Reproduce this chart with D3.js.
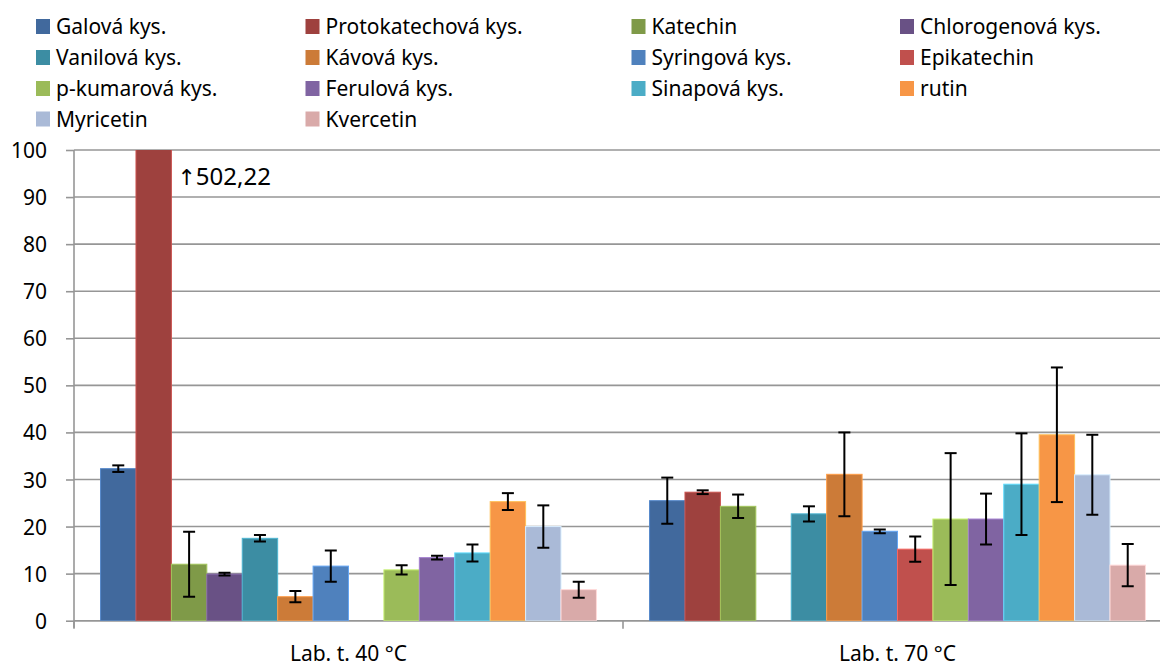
<!DOCTYPE html>
<html>
<head>
<meta charset="utf-8">
<script src="https://cdn.jsdelivr.net/npm/d3@7/dist/d3.min.js"></script>
<style>
  html, body { margin: 0; padding: 0; background: #fff; }
  svg { display: block; font-family: "Noto Sans", "DejaVu Sans", sans-serif; }
</style>
</head>
<body>
<svg id="chart" width="1160" height="666"></svg>
<script>
// Extraction temperatures (categories on the x axis)
const categories = ["Lab. t. 40 °C", "Lab. t. 70 °C"];

// Phenolic compounds (one bar series each)
const compounds = [
  "Galová kys.", "Protokatechová kys.", "Katechin", "Chlorogenová kys.",
  "Vanilová kys.", "Kávová kys.", "Syringová kys.", "Epikatechin",
  "p-kumarová kys.", "Ferulová kys.", "Sinapová kys.", "rutin",
  "Myricetin", "Kvercetin"
];

// Mean values at 40 °C and 70 °C (null = not detected)
const values40 = [32.3, 502.22, 12.0, 9.9, 17.5, 5.1, 11.6, null, 10.8, 13.4, 14.4, 25.3, 20.0, 6.6];
const values70 = [25.5, 27.3, 24.3, null, 22.7, 31.1, 19.0, 15.2, 21.6, 21.6, 29.0, 39.5, 31.0, 11.8];

// Standard deviations drawn as error bars
const errors40 = [0.7, null, 6.9, 0.3, 0.7, 1.2, 3.3, null, 1.0, 0.4, 1.8, 1.8, 4.5, 1.7];
const errors70 = [4.9, 0.4, 2.5, null, 1.6, 8.9, 0.4, 2.7, 14.0, 5.4, 10.8, 14.3, 8.5, 4.5];

// Y axis ticks
const yTicks = [0, 10, 20, 30, 40, 50, 60, 70, 80, 90, 100];

// Series colours
const palette = [
  "#41699d", "#9e413e", "#7f9a48", "#695185",
  "#3c8da3", "#cc7b38", "#4f81bd", "#c0504d",
  "#9bbb59", "#8064a2", "#4bacc6", "#f79646",
  "#aabad7", "#d9aaa9"
];

const valuesByCategory = [values40, values70];
const errorsByCategory = [errors40, errors70];

const svg = d3.select("#chart");

const plot = { left: 74, right: 1172, top: 150, bottom: 620.7 };

const x0 = d3.scaleBand().domain(categories).range([plot.left, plot.right]).padding(0);
const x1 = d3.scaleBand().domain(compounds).range([0, x0.bandwidth()])
  .paddingInner(0).paddingOuter(0.75);
const y = d3.scaleLinear().domain([0, 100]).range([plot.bottom, plot.top]);
const color = d3.scaleOrdinal().domain(compounds).range(palette);

// Clip region for the plot area (bars taller than the axis are cut off)
svg.append("defs").append("clipPath").attr("id", "plot-clip")
  .append("rect")
  .attr("x", plot.left).attr("y", plot.top)
  .attr("width", plot.right - plot.left).attr("height", plot.bottom - plot.top);

// Horizontal gridlines
svg.append("g").attr("class", "grid")
  .selectAll("line").data(yTicks).join("line")
  .attr("x1", plot.left).attr("x2", plot.right)
  .attr("y1", d => y(d)).attr("y2", d => y(d))
  .attr("stroke", "#969696").attr("stroke-width", 1.6);

// Y axis
const yAxis = svg.append("g")
  .attr("transform", `translate(${plot.left},0)`)
  .call(d3.axisLeft(y).tickValues(yTicks).tickSize(8).tickPadding(19).tickFormat(d3.format("d")));
yAxis.select(".domain").attr("stroke", "#969696").attr("stroke-width", 1.6)
  .attr("d", `M0,${plot.top}V${plot.bottom + 7}`);
yAxis.selectAll(".tick line").attr("stroke", "#969696").attr("stroke-width", 1.6);
yAxis.selectAll(".tick text")
  .attr("font-family", "Noto Sans").attr("font-size", 21).attr("fill", "#000")
  .attr("dy", "0.36em");

// X axis: baseline, category boundary ticks and labels
const xAxis = svg.append("g");
xAxis.append("line")
  .attr("x1", plot.left).attr("x2", plot.right)
  .attr("y1", plot.bottom).attr("y2", plot.bottom)
  .attr("stroke", "#969696").attr("stroke-width", 1.6);
const boundaries = categories.map(c => x0(c)).concat([x0(categories[categories.length - 1]) + x0.bandwidth()]);
xAxis.selectAll("line.boundary").data(boundaries).join("line")
  .attr("class", "boundary")
  .attr("x1", d => d).attr("x2", d => d)
  .attr("y1", plot.bottom).attr("y2", plot.bottom + 8)
  .attr("stroke", "#969696").attr("stroke-width", 1.6);
xAxis.selectAll("text").data(categories).join("text")
  .attr("x", d => x0(d) + x0.bandwidth() / 2)
  .attr("y", 661)
  .attr("text-anchor", "middle")
  .attr("font-family", "Noto Sans").attr("font-size", 21).attr("fill", "#000")
  .text(d => d);

// Bars
const groups = svg.append("g").attr("clip-path", "url(#plot-clip)")
  .selectAll("g").data(categories).join("g")
  .attr("transform", d => `translate(${x0(d)},0)`);

groups.selectAll("rect")
  .data((cat, i) => compounds.map((name, j) => ({ name, value: valuesByCategory[i][j] })))
  .join("rect")
  .filter(d => d.value !== null)
  .attr("x", d => x1(d.name))
  .attr("width", x1.bandwidth())
  .attr("y", d => y(d.value))
  .attr("height", d => y(0) - y(d.value))
  .attr("fill", d => color(d.name))
  .attr("stroke", d => d3.color(color(d.name)).brighter(0.7))
  .attr("stroke-width", 1);

// Error bars
const capHalf = 6;
const errGroups = svg.append("g").attr("clip-path", "url(#plot-clip)")
  .selectAll("g").data(categories).join("g")
  .attr("transform", d => `translate(${x0(d)},0)`);

const errData = (cat, i) => compounds
  .map((name, j) => ({ name, value: valuesByCategory[i][j], err: errorsByCategory[i][j] }))
  .filter(d => d.value !== null && d.err !== null);

errGroups.each(function (cat, i) {
  const g = d3.select(this);
  const data = errData(cat, i);
  const cx = d => x1(d.name) + x1.bandwidth() / 2;
  g.selectAll("line.stem").data(data).join("line").attr("class", "stem")
    .attr("x1", cx).attr("x2", cx)
    .attr("y1", d => y(d.value + d.err)).attr("y2", d => y(d.value - d.err))
    .attr("stroke", "#000").attr("stroke-width", 2);
  g.selectAll("line.capTop").data(data).join("line").attr("class", "capTop")
    .attr("x1", d => cx(d) - capHalf).attr("x2", d => cx(d) + capHalf)
    .attr("y1", d => y(d.value + d.err)).attr("y2", d => y(d.value + d.err))
    .attr("stroke", "#000").attr("stroke-width", 2);
  g.selectAll("line.capBot").data(data).join("line").attr("class", "capBot")
    .attr("x1", d => cx(d) - capHalf).attr("x2", d => cx(d) + capHalf)
    .attr("y1", d => y(d.value - d.err)).attr("y2", d => y(d.value - d.err))
    .attr("stroke", "#000").attr("stroke-width", 2);
});

// Value note for the bar that exceeds the axis range
const offScale = [];
categories.forEach((cat, i) => compounds.forEach((name, j) => {
  const v = valuesByCategory[i][j];
  if (v !== null && v > y.domain()[1]) offScale.push({ cat, name, value: v });
}));
const note = svg.append("g").selectAll("text").data(offScale).join("text")
  .attr("x", d => x0(d.cat) + x1(d.name) + x1.bandwidth() + 6)
  .attr("y", y(100) + 35)
  .attr("font-family", "Noto Sans").attr("font-size", 24).attr("fill", "#000");
note.append("tspan")
  .attr("font-family", "DejaVu Sans").attr("font-size", 22).attr("fill", "#000")
  .text("\u2191");
note.append("tspan")
  .text(d => d3.format(".2f")(d.value).replace(".", ","));

// Legend (4 columns, row-major order)
const legendCols = [36, 305.5, 631.5, 900];
const legendRows = [26.5, 57.5, 88.5, 119];
const legend = svg.append("g").selectAll("g").data(compounds).join("g")
  .attr("transform", (d, i) => `translate(${legendCols[i % 4]},${legendRows[Math.floor(i / 4)]})`);
legend.append("rect")
  .attr("x", 0).attr("y", -7.5).attr("width", 14).attr("height", 15)
  .attr("fill", d => color(d));
legend.append("text")
  .attr("x", 20).attr("y", 7.5)
  .attr("font-family", "Noto Sans").attr("font-size", 21).attr("fill", "#000")
  .text(d => d);
</script>
</body>
</html>
